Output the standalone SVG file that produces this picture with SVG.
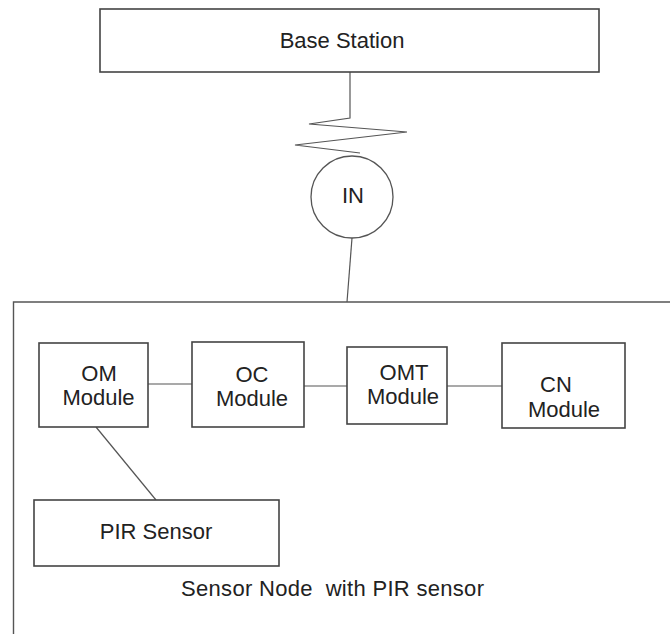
<svg xmlns="http://www.w3.org/2000/svg" width="670" height="634" viewBox="0 0 670 634">
  <style>
    .box { fill: #ffffff; stroke: #444444; stroke-width: 1.6; }
    .wire { fill: none; stroke: #555555; stroke-width: 1.2; }
    .lbl { font-family: "Liberation Sans", Arial, sans-serif; font-size: 22px; fill: #222222; text-anchor: middle; }
    .cap { font-family: "Liberation Sans", Arial, sans-serif; font-size: 22px; fill: #222222; white-space: pre; }
  </style>
  <rect width="670" height="634" fill="#ffffff"/>

  <!-- enclosing sensor node frame, open to the right and bottom -->
  <g id="sensor-node">
    <path d="M13.5 634 V302 H670" fill="none" stroke="#555555" stroke-width="1.4"/>
    <text class="cap" x="181" y="596" textLength="303" xml:space="preserve">Sensor Node  with PIR sensor</text>
  </g>

  <g id="connectors">
    <!-- base station down to the radio link -->
    <polyline class="wire" points="350,72 350,118 309,124 407,132 295,145 360,153"/>
    <!-- IN down to the sensor node frame -->
    <line class="wire" x1="352" y1="238" x2="347" y2="302"/>
    <!-- module chain -->
    <line class="wire" x1="148" y1="384" x2="192" y2="384"/>
    <line class="wire" x1="304" y1="386" x2="347" y2="386"/>
    <line class="wire" x1="447" y1="386" x2="502" y2="386"/>
    <!-- OM to PIR sensor -->
    <line class="wire" x1="96" y1="427" x2="156" y2="500"/>
  </g>

  <g id="base-station">
    <rect class="box" x="100" y="9" width="499" height="63"/>
    <text class="lbl" x="342" y="48">Base Station</text>
  </g>

  <g id="in">
    <circle cx="352" cy="197" r="41" fill="#ffffff" stroke="#555555" stroke-width="1.3"/>
    <text class="lbl" x="353" y="203">IN</text>
  </g>

  <g id="om-module">
    <rect class="box" x="39" y="343" width="109" height="84"/>
    <text class="lbl" x="99" y="381">OM</text>
    <text class="lbl" x="98.5" y="405">Module</text>
  </g>

  <g id="oc-module">
    <rect class="box" x="192" y="342" width="112" height="85"/>
    <text class="lbl" x="252" y="382">OC</text>
    <text class="lbl" x="252" y="406">Module</text>
  </g>

  <g id="omt-module">
    <rect class="box" x="347" y="347" width="100" height="77"/>
    <text class="lbl" x="404" y="380">OMT</text>
    <text class="lbl" x="403" y="404">Module</text>
  </g>

  <g id="cn-module">
    <rect class="box" x="502" y="343" width="123" height="85"/>
    <text class="lbl" x="556" y="392">CN</text>
    <text class="lbl" x="564" y="417">Module</text>
  </g>

  <g id="pir-sensor">
    <rect class="box" x="34" y="500" width="245" height="66"/>
    <text class="lbl" x="156" y="539">PIR Sensor</text>
  </g>
</svg>
